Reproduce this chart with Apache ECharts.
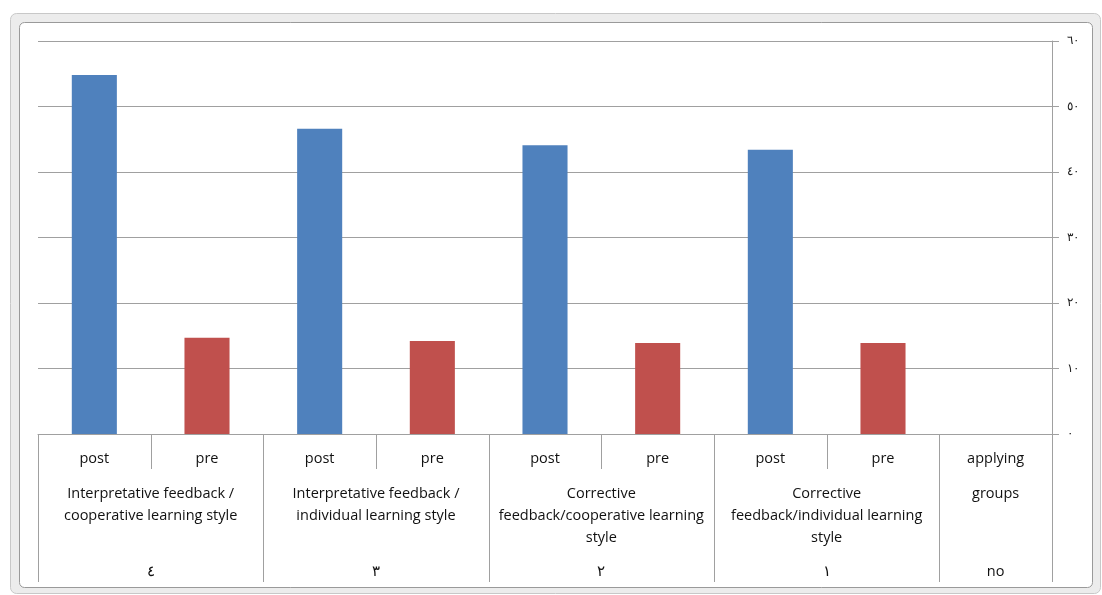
<!DOCTYPE html>
<html>
<head>
<meta charset="utf-8">
<script src="https://cdn.jsdelivr.net/npm/echarts@6/dist/echarts.min.js"></script>
<style>
  html, body { margin: 0; padding: 0; background: #fff; }
  #chart { width: 1102px; height: 595px; }
</style>
</head>
<body>
<div id="chart"></div>
<script>
// slots along the bottom, left to right (the sheet is right-to-left)
const subLabels = ['post', 'pre', 'post', 'pre', 'post', 'pre', 'post', 'pre', 'applying'];
const groupNames = [
  'Interpretative feedback /\ncooperative learning style',
  'Interpretative feedback /\nindividual learning style',
  'Corrective\nfeedback/cooperative learning\nstyle',
  'Corrective\nfeedback/individual learning\nstyle',
  'groups'
];
const groupNums = ['٤', '٣', '٢', '١', 'no'];
const groupSpans = [2, 2, 2, 2, 1];
const postValues = [54.8, 46.6, 44.1, 43.4];
const preValues = [14.7, 14.2, 13.9, 13.9];
const yTickLabels = ['٠', '١٠', '٢٠', '٣٠', '٤٠', '٥٠', '٦٠'];

const chart = echarts.init(document.getElementById('chart'));

// spread the post/pre values over their own slots
const postData = subLabels.map(() => '-');
const preData = subLabels.map(() => '-');
postValues.forEach((v, i) => { postData[i * 2] = v; });
preValues.forEach((v, i) => { preData[i * 2 + 1] = v; });

// table rows under the axis, one item per group: [firstSlot, lastSlot, groupIndex]
const tableData = [];
let start = 0;
groupSpans.forEach((span, g) => {
  tableData.push([start, start + span - 1, g]);
  start += span;
});

const gridColor = '#a0a0a0';
const textFont = '"Open Sans", "Liberation Sans", Arial, sans-serif';

function renderTable(params, api) {
  const first = api.value(0);
  const last = api.value(1);
  const g = api.value(2);
  const bw = api.size([1, 0])[0];
  const y0 = api.coord([first, 0])[1];
  const left = api.coord([first, 0])[0] - bw / 2;
  const right = api.coord([last, 0])[0] + bw / 2;
  const children = [];
  const line = (x, y1, y2) => ({
    type: 'line',
    shape: { x1: x, y1: y1, x2: x, y2: y2 },
    style: { stroke: gridColor, lineWidth: 1 }
  });
  const text = (x, y, t) => ({
    type: 'text',
    style: { x: x, y: y, text: t, fill: '#111', font: '14.5px ' + textFont,
      align: 'center', verticalAlign: 'top', lineHeight: 22 }
  });
  children.push(line(Math.round(left) + 0.5, y0, y0 + 148));
  if (params.dataIndex === tableData.length - 1) {
    children.push(line(Math.round(right) + 0.5, y0, y0 + 148));
  }
  for (let s = first; s <= last; s++) {
    const cx = api.coord([s, 0])[0];
    children.push(text(cx, y0 + 14, subLabels[s]));
    if (s > first) {
      children.push(line(Math.round(cx - bw / 2) + 0.5, y0, y0 + 35));
    }
  }
  const mid = (left + right) / 2;
  children.push(text(mid, y0 + 49, groupNames[g]));
  children.push(text(mid, y0 + 127, groupNums[g]));
  return { type: 'group', children: children };
}

const option = {
  animation: false,
  graphic: [
    {
      type: 'rect', z: -10, silent: true,
      shape: { x: 10.5, y: 13.5, width: 1090, height: 580, r: 6 },
      style: { fill: '#ececec', stroke: '#c8c8c8', lineWidth: 1 }
    },
    {
      type: 'rect', z: -9, silent: true,
      shape: { x: 19.5, y: 22.5, width: 1073, height: 565, r: 5 },
      style: { fill: '#ffffff', stroke: '#9a9a9a', lineWidth: 1 }
    }
  ],
  grid: { left: 38, right: 50, top: 41, bottom: 161, containLabel: false },
  xAxis: {
    type: 'category',
    data: subLabels,
    axisLine: { show: true, lineStyle: { color: gridColor } },
    axisTick: { show: false },
    axisLabel: { show: false },
    splitLine: { show: false }
  },
  yAxis: {
    type: 'value',
    position: 'right',
    min: 0,
    max: 60,
    interval: 10,
    axisLine: { show: true, lineStyle: { color: gridColor } },
    axisTick: { show: true, length: 7, lineStyle: { color: gridColor } },
    axisLabel: {
      margin: 15,
      color: '#222',
      fontSize: 12,
      fontFamily: textFont,
      formatter: v => yTickLabels[Math.round(v / 10)]
    },
    splitLine: { show: true, lineStyle: { color: gridColor, width: 1 } }
  },
  series: [
    {
      name: 'post',
      type: 'bar',
      data: postData,
      barWidth: '40%',
      barGap: '-100%',
      itemStyle: { color: '#4f81bd' }
    },
    {
      name: 'pre',
      type: 'bar',
      data: preData,
      barWidth: '40%',
      barGap: '-100%',
      itemStyle: { color: '#c0504d' }
    },
    {
      name: 'table',
      type: 'custom',
      data: tableData,
      encode: { x: 0, y: 2 },
      clip: false,
      silent: true,
      renderItem: renderTable
    }
  ]
};

chart.setOption(option);
</script>
</body>
</html>
